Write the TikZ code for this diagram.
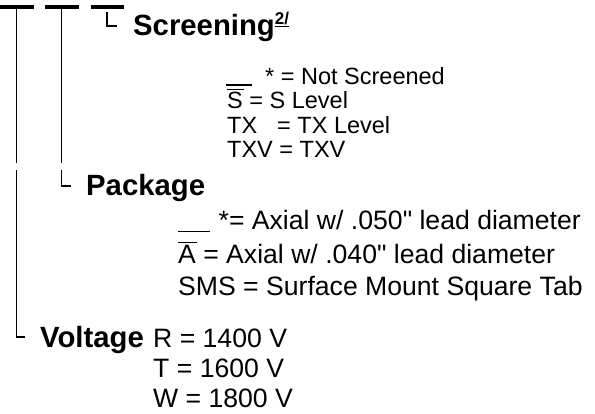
\documentclass[tikz,border=0pt]{standalone}
\usepackage{fontspec}
\setmainfont{Liberation Sans}[Ligatures=TeXOff]
\newcommand\myovl[1]{\setbox0=\hbox{#1}\rlap{\rule[\dimexpr\ht0+1.5bp\relax]{\dimexpr\wd0+1bp\relax}{1.2bp}}#1}
\tikzset{
  lbl/.style={anchor=base west, inner sep=0pt, font=\fontsize{29.3bp}{31bp}\selectfont\bfseries},
  optS/.style={anchor=base west, inner sep=0pt, font=\fontsize{23.5bp}{25bp}\selectfont},
  optL/.style={anchor=base west, inner sep=0pt, font=\fontsize{26.6bp}{28bp}\selectfont},
  topbar/.style={line width=4bp},
  tree/.style={line width=1.5bp},
}
\begin{document}
\begin{tikzpicture}[x=1bp,y=-1bp]
\useasboundingbox (0,0) rectangle (595,413);
% top bars
\coordinate (b1a) at (0,7);   \coordinate (b1b) at (34,7);
\coordinate (b2a) at (45,7);  \coordinate (b2b) at (79,7);
\coordinate (b3a) at (91,7);  \coordinate (b3b) at (124,7);
\draw[topbar] (b1a) -- (b1b);
\draw[topbar] (b2a) -- (b2b);
\draw[topbar] (b3a) -- (b3b);
% tree line 1 (Voltage)
\coordinate (t1a) at (16.7,9);   \coordinate (t1b) at (16.7,163);
\coordinate (t1c) at (16.7,170); \coordinate (t1d) at (16.7,337); \coordinate (t1e) at (25,337);
\draw[tree] (t1a) -- (t1b);
\draw[tree] (t1c) -- (t1d) -- (t1e);
% tree line 2 (Package)
\coordinate (t2a) at (61.7,9);   \coordinate (t2b) at (61.7,163);
\coordinate (t2c) at (61.7,170); \coordinate (t2d) at (61.7,186); \coordinate (t2e) at (71,186);
\draw[tree] (t2a) -- (t2b);
\draw[tree] (t2c) -- (t2d) -- (t2e);
% tree line 3 (Screening)
\coordinate (t3a) at (107,12); \coordinate (t3b) at (107,26); \coordinate (t3c) at (117,26);
\draw[tree] (t3a) -- (t3b) -- (t3c);
% Screening
\node[lbl] (scr) at (133,35) {Screening\raisebox{11bp}{\fontsize{17bp}{17bp}\selectfont\underline{2/}}};
\node[optS] (s0) at (226,84) {\rule[-1.5bp]{26bp}{1.5bp}\hspace{13bp}* = Not Screened};
\node[optS] (s1) at (227,108) {\myovl{S} = S Level};
\node[optS] (s2) at (227,133) {TX\hspace{20bp}= TX Level};
\node[optS] (s3) at (227,157) {TXV = TXV};
% Package
\node[lbl] (pkg) at (86,195) {Package};
\node[optL] (p0) at (178,229) {\rule[-3bp]{32bp}{1.5bp}\hspace{8.5bp}*= Axial w/ .050" lead diameter};
\node[optL] (p1) at (178,263) {\myovl{A} = Axial w/ .040" lead diameter};
\node[optL] (p2) at (178,295) {SMS = Surface Mount Square Tab};
% Voltage
\node[lbl] (vol) at (40,347) {Voltage};
\node[optL] (v0) at (153,347) {R = 1400 V};
\node[optL] (v1) at (153,377) {T = 1600 V};
\node[optL] (v2) at (153,407) {W = 1800 V};
\end{tikzpicture}
\end{document}
